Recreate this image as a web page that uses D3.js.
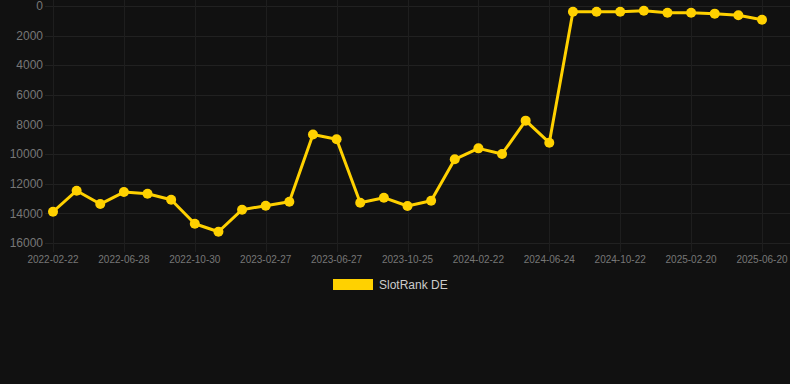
<!DOCTYPE html>
<html>
<head>
<meta charset="utf-8">
<script src="https://cdn.jsdelivr.net/npm/d3@7"></script>
<style>
  html, body { margin: 0; padding: 0; background: #111111; }
  svg { display: block; font-family: "Liberation Sans", Arial, Helvetica, sans-serif; }
</style>
</head>
<body>
<script>
// SlotRank DE, rank over time (lower rank = better, axis reversed)
var dates = ["2022-02-22", "2022-04-05", "2022-05-17", "2022-06-28", "2022-08-09", "2022-09-19",
             "2022-10-30", "2022-12-09", "2023-01-18", "2023-02-27", "2023-04-08", "2023-05-18",
             "2023-06-27", "2023-08-06", "2023-09-15", "2023-10-25", "2023-12-04", "2024-01-13",
             "2024-02-22", "2024-04-03", "2024-05-14", "2024-06-24", "2024-08-03", "2024-09-12",
             "2024-10-22", "2024-12-01", "2025-01-10", "2025-02-20", "2025-04-01", "2025-05-11",
             "2025-06-20"];
var ranks = [13890, 12470, 13370, 12560, 12670, 13080, 14700, 15240, 13750, 13480, 13210, 8670,
             9000, 13280, 12940, 13500, 13150, 10350, 9610, 9990, 7740, 9230, 385, 385,
             385, 317, 450, 450, 517, 630, 925];
var yTicks = [0, 2000, 4000, 6000, 8000, 10000, 12000, 14000, 16000];
var seriesName = "SlotRank DE";

// note: "top" is a reserved window property, so plot edges get a prefix
var width = 790, height = 384;
var plotLeft = 53, plotRight = 762, plotTop = 6, plotBottom = 243;
var lineColor = "#ffd100";
var gridColor = "#1e1e1e";

var svg = d3.select("body").append("svg")
    .attr("width", width)
    .attr("height", height);

var x = d3.scalePoint()
    .domain(dates)
    .range([plotLeft, plotRight]);

var y = d3.scaleLinear()
    .domain([0, 16000])
    .range([plotTop, plotBottom]);

// horizontal grid + y labels
svg.selectAll(".hgrid")
  .data(yTicks)
  .enter()
  .append("line")
  .attr("class", "hgrid")
  .attr("x1", plotLeft - 8)
  .attr("x2", width)
  .attr("y1", function(d) { return Math.round(y(d)) + 0.5; })
  .attr("y2", function(d) { return Math.round(y(d)) + 0.5; })
  .attr("stroke", d3.color(gridColor).brighter(0.3))
  .attr("stroke-width", 1);

svg.selectAll(".ylab")
  .data(yTicks)
  .enter()
  .append("text")
  .attr("class", "ylab")
  .attr("x", plotLeft - 10)
  .attr("y", function(d) { return y(d); })
  .attr("dy", "0.35em")
  .attr("text-anchor", "end")
  .attr("fill", "#777777")
  .attr("font-size", 12)
  .text(function(d) { return d; });

// vertical grid on every third date (the labelled ones)
var shown = dates.filter(function(d, i) { return i % 3 === 0; });

svg.selectAll(".vgrid")
  .data(shown)
  .enter()
  .append("line")
  .attr("class", "vgrid")
  .attr("x1", function(d) { return Math.round(x(d)) + 0.5; })
  .attr("x2", function(d) { return Math.round(x(d)) + 0.5; })
  .attr("y1", 0)
  .attr("y2", plotBottom + 9)
  .attr("stroke", gridColor)
  .attr("stroke-width", 1);

svg.selectAll(".xlab")
  .data(shown)
  .enter()
  .append("text")
  .attr("class", "xlab")
  .attr("x", function(d) { return x(d); })
  .attr("y", plotBottom + 20)
  .attr("text-anchor", "middle")
  .attr("fill", "#777777")
  .attr("font-size", 10)
  .text(function(d) { return d; });

// line + points
var line = d3.line()
    .x(function(d, i) { return x(dates[i]); })
    .y(function(d) { return y(d); });

svg.append("path")
  .datum(ranks)
  .attr("d", line)
  .attr("fill", "none")
  .attr("stroke", lineColor)
  .attr("stroke-width", 3)
  .attr("stroke-linejoin", "round");

svg.selectAll(".pt")
  .data(ranks)
  .enter()
  .append("circle")
  .attr("class", "pt")
  .attr("cx", function(d, i) { return x(dates[i]); })
  .attr("cy", function(d) { return y(d); })
  .attr("r", 5)
  .attr("fill", lineColor);

// legend
var legend = svg.append("g").attr("transform", "translate(333,279)");
legend.append("rect")
  .attr("width", 40)
  .attr("height", 11)
  .attr("fill", lineColor);
legend.append("text")
  .attr("x", 46)
  .attr("y", 5.5)
  .attr("dy", "0.35em")
  .attr("fill", "#cccccc")
  .attr("font-size", 12)
  .text(seriesName);
</script>
</body>
</html>
